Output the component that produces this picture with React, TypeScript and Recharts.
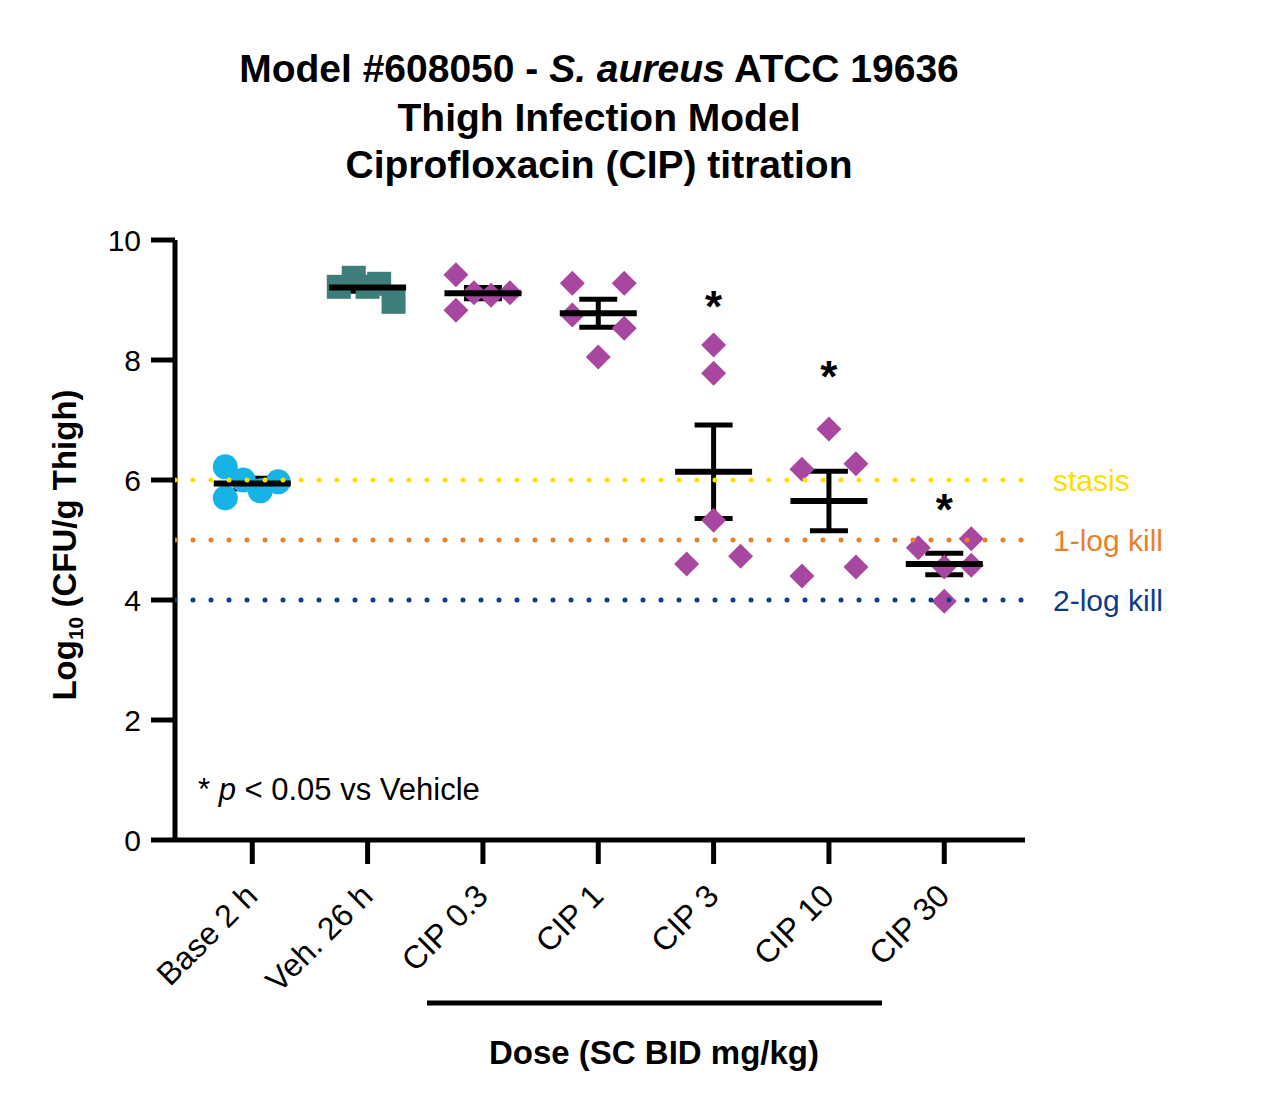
import React from "react";
import {
  ScatterChart,
  Scatter,
  XAxis,
  YAxis,
  ErrorBar,
  ReferenceLine,
} from "recharts";

const FONT = '"Liberation Sans", Arial, Helvetica, sans-serif';

// categories along the x axis
const groups = ["Base 2 h", "Veh. 26 h", "CIP 0.3", "CIP 1", "CIP 3", "CIP 10", "CIP 30"];

// individual animals, log10 CFU/g and their horizontal spread
const baseVals = [6.22, 5.7, 6.0, 5.82, 5.97];
const baseSpread = [-0.234, -0.234, -0.078, 0.069, 0.225];
const vehVals = [9.22, 9.37, 9.22, 9.27, 8.97];
const vehSpread = [-0.25, -0.12, 0, 0.1, 0.225];
const cip03Vals = [9.42, 8.83, 9.12, 9.08, 9.12];
const cip03Spread = [-0.234, -0.234, -0.078, 0.07, 0.234];
const cip1Vals = [9.28, 8.75, 8.05, 9.28, 8.53];
const cip1Spread = [-0.225, -0.225, 0, 0.225, 0.225];
const cip3Vals = [8.25, 7.78, 5.33, 4.6, 4.73];
const cip3Spread = [0, 0, 0, -0.234, 0.234];
const cip10Vals = [6.85, 6.18, 6.27, 4.4, 4.55];
const cip10Spread = [0, -0.234, 0.234, -0.234, 0.234];
const cip30Vals = [4.87, 5.02, 4.58, 3.98, 4.55];
const cip30Spread = [-0.225, 0.234, 0.234, 0, 0];

// significance markers (* p < 0.05 vs Vehicle)
const starGroups = [4, 5, 6];
const starHeights = [9.05, 7.88, 5.67];

// reference levels
const refLevels = [6, 5, 4];
const refNames = ["stasis", "1-log kill", "2-log kill"];
const refColors = ["#FFDD00", "#E8802A", "#0E3A87"];

const yTicks = [0, 2, 4, 6, 8, 10];
const xDomain = [-0.67, 6.7];

const CYAN = "#17B2E6";
const TEAL = "#3E7E7A";
const MAGENTA = "#A8479F";

const toPoints = (group: number, vals: number[], spread: number[]) =>
  vals.map((v, i) => ({ x: group + spread[i], y: v }));

const allVals = [baseVals, vehVals, cip03Vals, cip1Vals, cip3Vals, cip10Vals, cip30Vals];

const mean = (a: number[]) => a.reduce((s, v) => s + v, 0) / a.length;
const sem = (a: number[]) => {
  const m = mean(a);
  const sd = Math.sqrt(a.reduce((s, v) => s + (v - m) ** 2, 0) / (a.length - 1));
  return sd / Math.sqrt(a.length);
};

const summary = allVals.map((vals, i) => ({ x: i, y: mean(vals), err: sem(vals) }));
const stars = starGroups.map((g, i) => ({ x: g, y: starHeights[i] }));

const Circle = (props: any) => (
  <circle cx={props.cx} cy={props.cy} r={12.5} fill={CYAN} />
);
const Square = (props: any) => (
  <rect x={props.cx - 12} y={props.cy - 12} width={24} height={24} fill={TEAL} />
);
const Diamond = (props: any) => {
  const { cx, cy } = props;
  const r = 12.5;
  return (
    <polygon
      points={`${cx},${cy - r} ${cx + r},${cy} ${cx},${cy + r} ${cx - r},${cy}`}
      fill={MAGENTA}
    />
  );
};
const MeanLine = (props: any) => (
  <line
    x1={props.cx - 38.5}
    x2={props.cx + 38.5}
    y1={props.cy}
    y2={props.cy}
    stroke="#000"
    strokeWidth={6}
  />
);
const Star = (props: any) => (
  <text
    x={props.cx}
    y={props.cy + 25}
    textAnchor="middle"
    fontFamily={FONT}
    fontWeight="bold"
    fontSize={44}
    fill="#000"
  >
    *
  </text>
);
const NoDot = () => null;

const XTick = (props: any) => {
  const { x, y, payload } = props;
  const ax = x + 7;
  const ay = y + 32;
  return (
    <text
      x={ax}
      y={ay}
      transform={`rotate(-45, ${ax}, ${ay})`}
      textAnchor="end"
      fontFamily={FONT}
      fontSize={32}
      fill="#000"
    >
      {groups[payload.value]}
    </text>
  );
};

export default function App() {
  return (
    <div
      style={{
        position: "absolute",
        left: 0,
        top: 0,
        width: 1263,
        height: 1115,
        background: "#fff",
      }}
    >
      <ScatterChart
        width={1263}
        height={1115}
        margin={{ top: 240, right: 238, bottom: 235, left: 95 }}
      >
        <XAxis
          type="number"
          dataKey="x"
          domain={xDomain}
          ticks={[0, 1, 2, 3, 4, 5, 6]}
          interval={0}
          allowDataOverflow
          height={40}
          tickSize={24}
          axisLine={{ stroke: "#000", strokeWidth: 5 }}
          tickLine={{ stroke: "#000", strokeWidth: 5 }}
          tick={<XTick />}
        />
        <YAxis
          type="number"
          dataKey="y"
          domain={[0, 10]}
          ticks={yTicks}
          interval={0}
          width={80}
          tickSize={24}
          tickMargin={10}
          axisLine={{ stroke: "#000", strokeWidth: 5 }}
          tickLine={{ stroke: "#000", strokeWidth: 5 }}
          tick={{ fill: "#000", fontSize: 30, fontFamily: FONT }}
        />
        <Scatter data={toPoints(0, baseVals, baseSpread)} shape={<Circle />} isAnimationActive={false} />
        <Scatter data={toPoints(1, vehVals, vehSpread)} shape={<Square />} isAnimationActive={false} />
        <Scatter data={toPoints(2, cip03Vals, cip03Spread)} shape={<Diamond />} isAnimationActive={false} />
        <Scatter data={toPoints(3, cip1Vals, cip1Spread)} shape={<Diamond />} isAnimationActive={false} />
        <Scatter data={toPoints(4, cip3Vals, cip3Spread)} shape={<Diamond />} isAnimationActive={false} />
        <Scatter data={toPoints(5, cip10Vals, cip10Spread)} shape={<Diamond />} isAnimationActive={false} />
        <Scatter data={toPoints(6, cip30Vals, cip30Spread)} shape={<Diamond />} isAnimationActive={false} />
        <Scatter data={summary} shape={<MeanLine />} isAnimationActive={false}>
          <ErrorBar
            dataKey="err"
            direction="y"
            width={19}
            stroke="#000"
            strokeWidth={5}
            isAnimationActive={false}
          />
        </Scatter>
        <Scatter data={stars} shape={<Star />} isAnimationActive={false} />
        {/* dotted threshold lines drawn over the data, as in the original */}
        {refLevels.map((lvl, i) => (
          <Scatter
            key={"dots-" + refNames[i]}
            data={xDomain.map((x) => ({ x, y: lvl }))}
            shape={<NoDot />}
            line={{
              stroke: refColors[i],
              strokeWidth: 5,
              strokeDasharray: "0 18",
              strokeLinecap: "round",
            }}
            isAnimationActive={false}
          />
        ))}
        {refLevels.map((lvl, i) => (
          <ReferenceLine
            key={refNames[i]}
            y={lvl}
            stroke="none"
            label={{
              value: refNames[i],
              position: "right",
              offset: 28,
              fill: refColors[i],
              fontSize: 30,
              fontFamily: FONT,
            }}
          />
        ))}
      </ScatterChart>

      <svg
        width={1263}
        height={1115}
        style={{ position: "absolute", left: 0, top: 0, pointerEvents: "none" }}
        fontFamily={FONT}
      >
        <g fontWeight="bold" fontSize={39} textAnchor="middle" fill="#000">
          <text x={599} y={82}>
            Model #608050 - <tspan fontStyle="italic">S. aureus</tspan> ATCC 19636
          </text>
          <text x={599} y={131}>Thigh Infection Model</text>
          <text x={599} y={178}>Ciprofloxacin (CIP) titration</text>
        </g>
        <text
          transform="translate(76, 545) rotate(-90)"
          textAnchor="middle"
          fontWeight="bold"
          fontSize={33}
          fill="#000"
        >
          Log<tspan fontSize={21} dy={7}>10</tspan>
          <tspan dy={-7}> (CFU/g Thigh)</tspan>
        </text>
        <text x={198} y={800} fontSize={31} fill="#000">
          * <tspan fontStyle="italic">p</tspan> &lt; 0.05 vs Vehicle
        </text>
        <line x1={427} x2={882} y1={1003} y2={1003} stroke="#000" strokeWidth={5} />
        <text x={654} y={1064} textAnchor="middle" fontWeight="bold" fontSize={33} fill="#000">
          Dose (SC BID mg/kg)
        </text>
      </svg>
    </div>
  );
}
